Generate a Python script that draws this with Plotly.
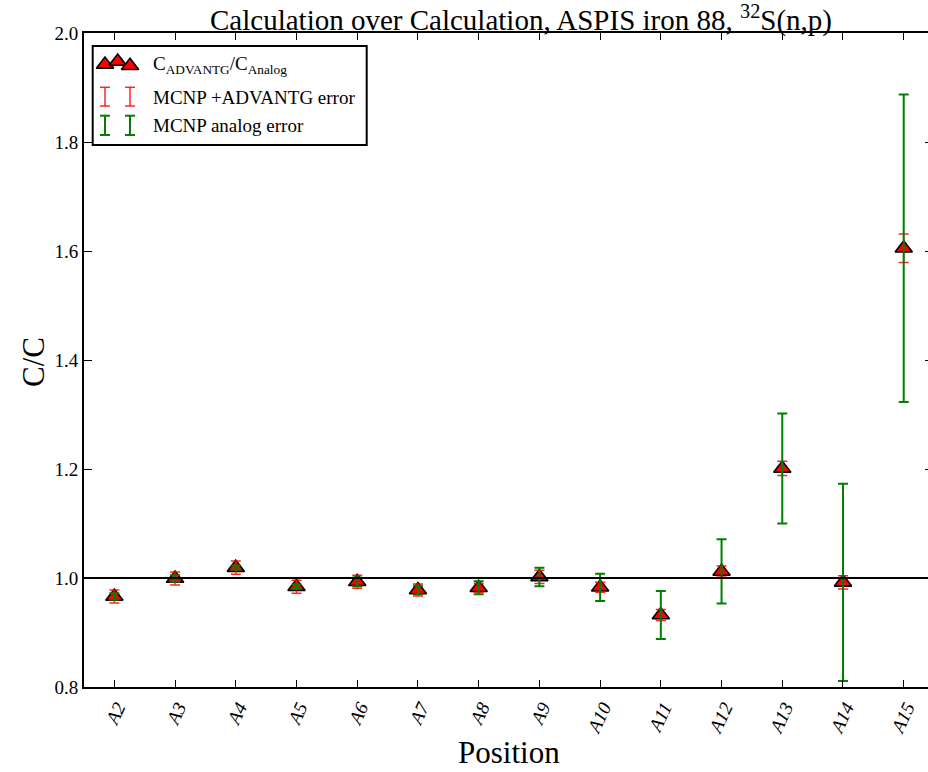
import plotly.graph_objects as go

# Measurement positions along the ASPIS iron 88 assembly
positions = ["A2", "A3", "A4", "A5", "A6", "A7", "A8", "A9",
             "A10", "A11", "A12", "A13", "A14", "A15"]

# C(ADVANTG) / C(analog) reaction-rate ratio for 32S(n,p)
ratio = [0.966, 0.999, 1.019, 0.984, 0.993, 0.978, 0.982, 1.002,
         0.983, 0.932, 1.012, 1.201, 0.992, 1.605]

# One-sigma uncertainties (absolute, on the ratio)
err_advantg = [0.012, 0.012, 0.012, 0.012, 0.012, 0.011, 0.008, 0.012,
               0.009, 0.010, 0.010, 0.013, 0.012, 0.026]
err_analog = [0.006, 0.006, 0.004, 0.004, 0.008, 0.008, 0.012, 0.017,
              0.025, 0.044, 0.059, 0.101, 0.181, 0.282]

y_ticks = [0.8, 1.0, 1.2, 1.4, 1.6, 1.8, 2.0]
unity = 1.0

FONT = "Liberation Serif"
RED = "#ff0000"
RED_BAR = "rgba(255,0,0,0.85)"
GREEN = "#008000"

idx = list(range(len(positions)))
W, H = 928, 772
L, R, T, B = 84, 928, 33, 687  # plot area in pixels

fig = go.Figure()

# ratio markers
fig.add_trace(go.Scatter(
    x=idx, y=ratio, mode="markers", showlegend=False,
    marker=dict(symbol="triangle-up", size=15, color=RED,
                line=dict(color="black", width=1.6)),
))
# MCNP+ADVANTG error bars (on the mirrored right-hand y axis, same scale)
fig.add_trace(go.Scatter(
    x=idx, y=ratio, yaxis="y2", mode="markers", showlegend=False,
    marker=dict(size=1, opacity=0),
    error_y=dict(type="data", array=err_advantg, visible=True,
                 color=RED_BAR, thickness=1.5, width=5),
))
# MCNP analog error bars
fig.add_trace(go.Scatter(
    x=idx, y=ratio, yaxis="y2", mode="markers", showlegend=False,
    marker=dict(size=1, opacity=0),
    error_y=dict(type="data", array=err_analog, visible=True,
                 color=GREEN, thickness=2, width=5),
))

# legend glyphs live on a pixel-scaled overlay axis
leg_tri_x = [105, 117.7, 130]
leg_tri_y = [64.5, 61.5, 65.8]
fig.add_trace(go.Scatter(
    x=leg_tri_x, y=leg_tri_y, xaxis="x3", yaxis="y3", mode="markers",
    showlegend=False, hoverinfo="skip",
    marker=dict(symbol="triangle-up", size=15, color=RED,
                line=dict(color="black", width=1.6)),
))

shapes = [
    dict(type="line", xref="paper", x0=0, x1=1, yref="y", y0=unity, y1=unity,
         line=dict(color="black", width=2)),
    dict(type="rect", xref="x3", yref="y3", x0=92.7, x1=366.7, y0=46, y1=145,
         line=dict(color="black", width=2), fillcolor="white", layer="below"),
]


def ibeam(xc, y0, y1, color, width):
    out = [dict(type="line", xref="x3", yref="y3", x0=xc, x1=xc, y0=y0, y1=y1,
                line=dict(color=color, width=width))]
    for yy in (y0, y1):
        out.append(dict(type="line", xref="x3", yref="y3", x0=xc - 5, x1=xc + 5,
                        y0=yy, y1=yy, line=dict(color=color, width=width)))
    return out


for xc in (105, 130):
    shapes += ibeam(xc, 87.3, 106, RED_BAR, 1.5)
    shapes += ibeam(xc, 115.7, 135, GREEN, 2)

legend_text = [
    ("C<sub>ADVANTG</sub>/C<sub>Analog</sub>", 65),
    ("MCNP +ADVANTG error", 97),
    ("MCNP analog error", 125),
]
annotations = [
    dict(xref="x3", yref="y3", x=151, y=yy, text=t, showarrow=False,
         xanchor="left", yanchor="middle", font=dict(family=FONT, size=19, color="black"))
    for t, yy in legend_text
]
annotations += [
    dict(xref="paper", yref="paper", x=(509 - L) / (R - L), y=(B - 752) / (B - T),
         text="Position", showarrow=False, xanchor="center", yanchor="middle",
         font=dict(family=FONT, size=31, color="black")),
    dict(xref="paper", yref="paper", x=(33 - L) / (R - L), y=(B - 362) / (B - T),
         text="C/C", showarrow=False, textangle=-90, xanchor="center", yanchor="middle",
         font=dict(family=FONT, size=31, color="black")),
    dict(xref="paper", yref="paper", x=(521 - L) / (R - L), y=(B - 19) / (B - T),
         text="Calculation over Calculation, ASPIS iron 88, <sup>32</sup>S(n,p)",
         showarrow=False, xanchor="center", yanchor="middle",
         font=dict(family=FONT, size=29, color="black")),
]

fig.update_layout(
    width=W, height=H,
    margin=dict(l=L, r=W - R, t=T, b=H - B, pad=0),
    paper_bgcolor="white", plot_bgcolor="white",
    font=dict(family=FONT, color="black"),
    showlegend=False,
    xaxis=dict(
        range=[-0.5, 13.4], tickmode="array", tickvals=idx,
        ticktext=[f"<i>{p}</i>" for p in positions], tickangle=-65,
        ticks="inside", ticklen=7, tickwidth=1, tickcolor="black",
        showline=True, linecolor="black", linewidth=2, mirror="ticks",
        showgrid=False, zeroline=False, ticklabelshift=3,
        tickfont=dict(family=FONT, size=19, color="black"),
    ),
    yaxis=dict(
        range=[0.8, 2.0], tickmode="array", tickvals=y_ticks,
        ticktext=[f"{v:.1f}" for v in y_ticks],
        ticks="inside", ticklen=8, tickwidth=1, tickcolor="black",
        showline=True, linecolor="black", linewidth=2,
        showgrid=False, zeroline=False,
        tickfont=dict(family=FONT, size=19, color="black"),
    ),
    yaxis2=dict(
        overlaying="y", side="right", range=[0.8, 2.0], tickmode="array",
        tickvals=y_ticks, ticks="inside", ticklen=3, tickwidth=1, tickcolor="black",
        showticklabels=False, showline=False, showgrid=False, zeroline=False,
    ),
    xaxis3=dict(overlaying="x", range=[L, R], visible=False, fixedrange=True),
    yaxis3=dict(overlaying="y", range=[B, T], visible=False, fixedrange=True),
    shapes=shapes,
    annotations=annotations,
)

fig.write_html("out.html")
